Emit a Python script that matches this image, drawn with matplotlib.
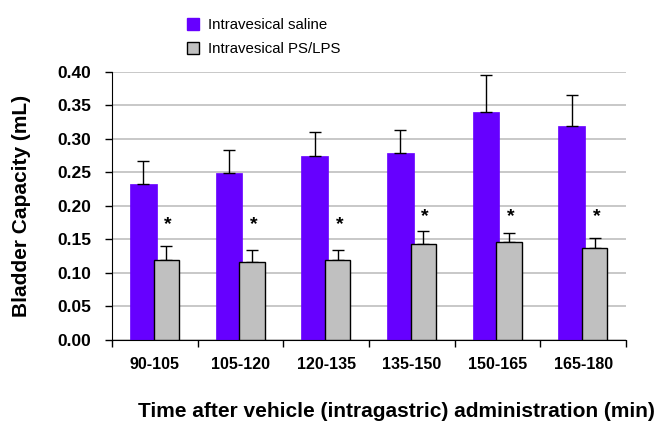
import matplotlib
matplotlib.use("Agg")
import matplotlib.pyplot as plt
from matplotlib.lines import Line2D
import numpy as np

plt.rcParams['font.family'] = ['Liberation Sans', 'DejaVu Sans']

categories = ["90-105", "105-120", "120-135", "135-150", "150-165", "165-180"]
saline = [0.233, 0.249, 0.275, 0.279, 0.341, 0.320]
saline_err = [0.034, 0.035, 0.035, 0.034, 0.054, 0.046]
pslps = [0.119, 0.116, 0.119, 0.143, 0.146, 0.138]
pslps_err = [0.022, 0.018, 0.015, 0.019, 0.013, 0.014]
star_y = [0.172, 0.172, 0.172, 0.184, 0.184, 0.184]

purple = "#6600FF"
grey = "#C0C0C0"

fig = plt.figure(figsize=(6.6, 4.26), dpi=100)
ax = fig.add_axes([0.1697, 0.2019, 0.7788, 0.6291])

x = np.arange(len(categories))
w = 0.31
off = 0.135

ax.bar(x - off, saline, width=w, color=purple, edgecolor=purple, linewidth=0.5, zorder=2)
ax.errorbar(x - off, saline, yerr=[np.zeros(len(x)), saline_err], fmt='none',
            ecolor='black', elinewidth=1, capsize=4, capthick=1, zorder=3)
ax.bar(x + off, pslps, width=w * 0.95, color=grey, edgecolor='black', linewidth=1, zorder=4)
ax.errorbar(x + off, pslps, yerr=[np.zeros(len(x)), pslps_err], fmt='none',
            ecolor='black', elinewidth=1, capsize=4, capthick=1, zorder=3)
for xi, yi in zip(x + off, star_y):
    ax.text(xi + 0.02, yi, "*", ha='center', va='center', fontsize=14, fontweight='bold', zorder=5)

ax.set_xlim(-0.5, len(categories) - 0.5)
ax.set_ylim(0, 0.40)
ax.set_yticks(np.arange(0, 0.401, 0.05))
ax.set_yticklabels([f"{v:.2f}" for v in np.arange(0, 0.401, 0.05)], fontsize=12.5, fontweight='bold')
ax.set_xticks(x)
ax.set_xticklabels(categories, fontsize=11.5, fontweight='bold')
ax.set_xticks(np.arange(-0.5, len(categories), 1.0), minor=True)
ax.tick_params(axis='x', which='major', length=0, pad=12)
ax.tick_params(axis='x', which='minor', length=5, direction='out', width=1)
ax.tick_params(axis='y', length=5, direction='out', width=1, pad=10)

ax.yaxis.grid(True, color='#BFBFBF', linewidth=1.2, zorder=0)
ax.set_axisbelow(True)
for s in ['top', 'right']:
    ax.spines[s].set_visible(False)
ax.spines['left'].set_color('black')
ax.spines['bottom'].set_color('black')

ax.set_ylabel("Bladder Capacity (mL)", fontsize=15, fontweight='bold', labelpad=19)
fig.text(0.6, 0.035, "Time after vehicle (intragastric) administration (min)",
         ha='center', va='center', fontsize=15, fontweight='bold')

handles = [
    Line2D([], [], marker='s', linestyle='none', markersize=8, markerfacecolor=purple,
           markeredgecolor=purple, label="Intravesical saline"),
    Line2D([], [], marker='s', linestyle='none', markersize=8, markerfacecolor=grey,
           markeredgecolor='black', label="Intravesical PS/LPS"),
]
fig.legend(handles=handles, loc='upper left', bbox_to_anchor=(0.26, 0.99), frameon=False,
           fontsize=10.8, handletextpad=0.5, labelspacing=0.7, handlelength=1.0)

fig.savefig("out.png", dpi=100)
